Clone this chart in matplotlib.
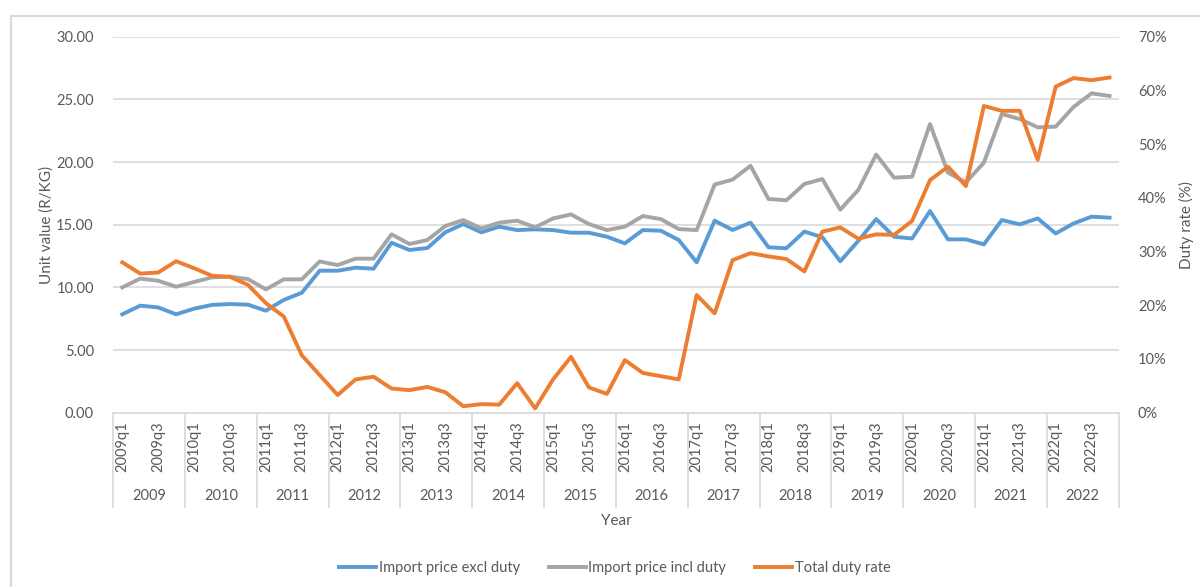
"""
unit value of imports vs total duty rate, quarterly 2009-2022
excel style combo chart with a two level category axis
"""

import matplotlib.pyplot as plt
from matplotlib.lines import Line2D
from matplotlib.ticker import FuncFormatter, MultipleLocator
from matplotlib.transforms import blended_transform_factory

years = [2009, 2010, 2011, 2012, 2013, 2014, 2015,
         2016, 2017, 2018, 2019, 2020, 2021, 2022]
quarters = [f"{y}q{q}" for y in years for q in (1, 2, 3, 4)]

# R/KG
price_excl = [
    7.85, 8.54, 8.40, 7.85,
    8.30, 8.60, 8.67, 8.62,
    8.14, 9.00, 9.57, 11.33,
    11.33, 11.57, 11.49, 13.56,
    12.98, 13.14, 14.40, 15.05,
    14.39, 14.84, 14.57, 14.63,
    14.57, 14.36, 14.36, 14.04,
    13.51, 14.57, 14.52, 13.78,
    12.00, 15.32, 14.58, 15.16,
    13.20, 13.12, 14.45, 14.00,
    12.08, 13.70, 15.45, 14.04,
    13.90, 16.09, 13.83, 13.83,
    13.43, 15.37, 15.03, 15.50,
    14.30, 15.10, 15.64, 15.56,
]
price_incl = [
    10.00, 10.70, 10.53, 10.05,
    10.43, 10.80, 10.85, 10.66,
    9.84, 10.64, 10.64, 12.07,
    11.78, 12.29, 12.29, 14.23,
    13.46, 13.78, 14.90, 15.37,
    14.70, 15.16, 15.32, 14.79,
    15.50, 15.82, 15.05, 14.57,
    14.84, 15.69, 15.45, 14.65,
    14.57, 18.20, 18.60, 19.70,
    17.05, 16.95, 18.25, 18.64,
    16.20, 17.77, 20.60, 18.75,
    18.83, 23.03, 19.15, 18.38,
    19.95, 23.83, 23.43, 22.77,
    22.82, 24.40, 25.48, 25.27,
]
# percent
duty_rate = [
    28.0, 25.9, 26.1, 28.2,
    26.9, 25.5, 25.3, 23.8,
    20.4, 17.9, 10.7, 7.0,
    3.3, 6.2, 6.7, 4.5,
    4.2, 4.8, 3.8, 1.2,
    1.6, 1.5, 5.5, 0.8,
    6.2, 10.4, 4.7, 3.5,
    9.8, 7.4, 6.8, 6.2,
    21.9, 18.5, 28.4, 29.7,
    29.1, 28.6, 26.3, 33.7,
    34.5, 32.4, 33.2, 33.1,
    35.7, 43.3, 45.8, 42.2,
    57.1, 56.2, 56.2, 47.1,
    60.7, 62.3, 61.9, 62.4,
]

BLUE = "#5B9BD5"
GRAY = "#A5A5A5"
ORANGE = "#ED7D31"
TEXT = "#595959"
GRID = "#D9D9D9"


def draw(output_file: str) -> None:
    """builds the figure and saves it"""
    plt.rcParams["font.family"] = ["Lato", "DejaVu Sans"]
    fig = plt.figure(figsize=(12, 5.87), dpi=100)

    # chart area border, cut off at the right and bottom
    fig.add_artist(Line2D([11 / 1200, 11 / 1200], [0, 1 - 16 / 587],
                          color=GRID, lw=1.5))
    fig.add_artist(Line2D([11 / 1200, 1], [1 - 16 / 587, 1 - 16 / 587],
                          color=GRID, lw=1.5))

    ax = fig.add_axes([113.3 / 1200, 1 - 412.7 / 587,
                       1005.2 / 1200, 376 / 587])
    ax2 = ax.twinx()
    x = list(range(len(quarters)))

    l1, = ax.plot(x, price_excl, color=BLUE, lw=2.8,
                  solid_joinstyle="round", label="Import price excl duty")
    l2, = ax.plot(x, price_incl, color=GRAY, lw=2.8,
                  solid_joinstyle="round", label="Import price incl duty")
    l3, = ax2.plot(x, duty_rate, color=ORANGE, lw=2.8,
                   solid_joinstyle="round", label="Total duty rate")

    ax.set_xlim(-0.5, len(quarters) - 0.5)
    ax.set_ylim(0, 30)
    ax2.set_ylim(0, 70)
    ax.yaxis.set_major_locator(MultipleLocator(5))
    ax.yaxis.set_major_formatter(FuncFormatter(lambda v, _: f"{v:.2f}"))
    ax2.yaxis.set_major_locator(MultipleLocator(10))
    ax2.yaxis.set_major_formatter(FuncFormatter(lambda v, _: f"{v:.0f}%"))
    ax.grid(axis="y", color=GRID, lw=1.2)
    ax.set_axisbelow(True)

    for a in (ax, ax2):
        for s in a.spines.values():
            s.set_visible(False)
        a.tick_params(axis="y", length=0, colors=TEXT, labelsize=10.5)
    ax.tick_params(axis="y", pad=14)
    ax2.tick_params(axis="y", pad=14)
    ax.spines["bottom"].set_visible(True)
    ax.spines["bottom"].set_color(GRID)
    ax.spines["bottom"].set_linewidth(1.2)

    # quarter labels, only q1 and q3 are written
    ax.set_xticks(x)
    ax.set_xticklabels([q if i % 4 in (0, 2) else "" for i, q in
                        enumerate(quarters)], rotation=90)
    ax.tick_params(axis="x", length=0, pad=6, colors=TEXT, labelsize=10.5)

    # year level of the axis
    trans = blended_transform_factory(ax.transData, ax.transAxes)
    for k, yr in enumerate(years):
        ax.text(4 * k + 1.5, -0.222, str(yr), transform=trans,
                ha="center", va="center", color=TEXT, fontsize=10.5)
    for k in range(len(years) + 1):
        ax.plot([4 * k - 0.5, 4 * k - 0.5], [0, -0.25], transform=trans,
                color=GRID, lw=1.2, clip_on=False)

    ax.text(0.5, -0.288, "Year", transform=ax.transAxes, ha="center",
            va="center", color=TEXT, fontsize=11)
    fig.text(47 / 1200, 1 - 225 / 587, "Unit value (R/KG)", rotation=90,
             ha="center", va="center", color=TEXT, fontsize=11)
    fig.text(1186 / 1200, 1 - 225 / 587, "Duty rate (%)", rotation=90,
             ha="center", va="center", color=TEXT, fontsize=11)

    fig.legend(handles=[l1, l2, l3], loc="center",
               bbox_to_anchor=(615 / 1200, 1 - 568 / 587), ncol=3,
               frameon=False, handlelength=2.5, handletextpad=0.2,
               columnspacing=2.0, fontsize=10.5, labelcolor=TEXT)

    fig.savefig(output_file, dpi=100)
    plt.close(fig)


def main() -> None:
    draw("out.png")


if __name__ == "__main__":
    main()
